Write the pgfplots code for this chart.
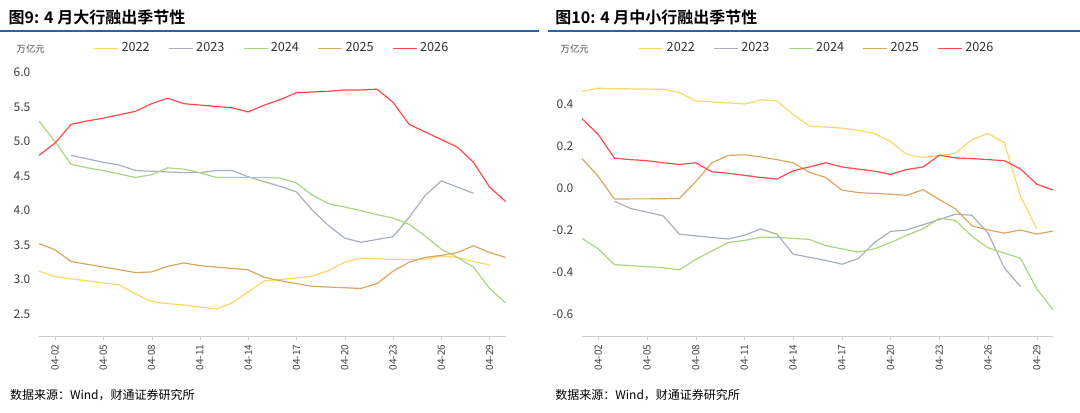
\documentclass[border=0pt]{standalone}
\usepackage{fontspec}
\setmainfont{Noto Sans CJK SC}
\newfontfamily\tfont{Noto Sans CJK SC}[BoldFont={Noto Sans CJK SC Bold}]
\usepackage{pgfplots}
\pgfplotsset{compat=1.18}
\definecolor{c22}{HTML}{FAD766}
\definecolor{c23}{HTML}{A8AFC0}
\definecolor{c24}{HTML}{ABD67E}
\definecolor{c25}{HTML}{DBA65E}
\definecolor{c26}{HTML}{FF4A4A}
\definecolor{tblue}{HTML}{2264AE}
\pgfplotsset{
 base/.style={
  scale only axis, width=350pt, height=205.5pt, xmin=1, xmax=30,
  axis y line*=left, axis x line*=bottom,
  y axis line style={draw=none}, x axis line style={draw=gray!40},
  ytick style={draw=none}, xtick style={draw=gray!40},
  xtick={2,5,...,29},
  xticklabels={04-02,04-05,04-08,04-11,04-14,04-17,04-20,04-23,04-26,04-29},
  xticklabel style={rotate=90, anchor=east, font=\fontsize{7.5}{8}\selectfont, text=black!75},
  yticklabel style={font=\fontsize{9}{10}\selectfont, text=black!75},
  /pgf/number format/assume math mode=true,
  tick align=outside, major tick length=3pt,
  every axis plot/.append style={line width=0.9pt, no markers},
  legend columns=5,
  legend style={draw=none, fill=none, at={(0.5,1)}, anchor=south, yshift=2pt,
    font=\fontsize{9.5}{10}\selectfont, text=black!80,
    /tikz/every even column/.append style={column sep=12pt}},
  legend image code/.code={\draw[#1, line width=0.9pt] (0pt,0pt)--(18pt,0pt);},
 }
}
\begin{document}
\begin{tikzpicture}
\path[use as bounding box] (0,0) rectangle (810pt,309.75pt);
\node[anchor=west] at (3pt,296.5pt) {\tfont\bfseries\fontsize{12}{13}\selectfont 图9: 4 月大行融出季节性};
\node[anchor=west] at (413pt,296.5pt) {\tfont\bfseries\fontsize{12}{13}\selectfont 图10: 4 月中小行融出季节性};
\draw[tblue, line width=1.3pt] (0,286.5pt) -- (404pt,286.5pt);
\draw[tblue, line width=1.3pt] (411pt,286.5pt) -- (810pt,286.5pt);
\node[anchor=west] at (4pt,13.5pt) {\fontsize{9}{10}\selectfont 数据来源：Wind，财通证券研究所};
\node[anchor=west] at (413pt,13.5pt) {\fontsize{9}{10}\selectfont 数据来源：Wind，财通证券研究所};
\node[anchor=west, text=black!70] at (9pt,273pt) {\fontsize{7}{8}\selectfont 万亿元};
\node[anchor=west, text=black!70] at (417pt,273pt) {\fontsize{7}{8}\selectfont 万亿元};
\begin{axis}[base, at={(29.25pt,57.75pt)}, anchor=south west, ymin=2.18, ymax=6.155,
  ytick={2.5,3,...,6}, yticklabel style={/pgf/number format/.cd, fixed, fixed zerofill, precision=1}]
\addplot[c22] coordinates {(1,3.12)(2,3.04)(3,3.01)(4,2.98)(5,2.95)(6,2.92)(7,2.79)(8,2.68)(9,2.65)(10,2.63)(11,2.60)(12,2.57)(13,2.66)(14,2.82)(15,2.98)(16,3.00)(17,3.02)(18,3.05)(19,3.13)(20,3.25)(21,3.31)(22,3.30)(23,3.29)(24,3.29)(25,3.29)(26,3.34)(27,3.32)(28,3.26)(29,3.21)};
\addplot[c23] coordinates {(3,4.80)(4,4.75)(5,4.70)(6,4.66)(7,4.58)(8,4.57)(9,4.56)(10,4.55)(11,4.55)(12,4.58)(13,4.58)(14,4.49)(15,4.42)(16,4.35)(17,4.27)(18,4.00)(19,3.78)(20,3.60)(21,3.54)(22,3.58)(23,3.62)(24,3.90)(25,4.22)(26,4.43)(27,4.34)(28,4.25)};
\addplot[c24] coordinates {(1,5.30)(2,5.0)(3,4.67)(4,4.62)(5,4.58)(6,4.53)(7,4.48)(8,4.52)(9,4.62)(10,4.60)(11,4.55)(12,4.48)(13,4.48)(14,4.48)(15,4.48)(16,4.47)(17,4.40)(18,4.22)(19,4.10)(20,4.05)(21,4.00)(22,3.94)(23,3.89)(24,3.80)(25,3.63)(26,3.44)(27,3.32)(28,3.18)(29,2.87)(30,2.66)};
\addplot[c25] coordinates {(1,3.52)(2,3.43)(3,3.26)(4,3.22)(5,3.18)(6,3.14)(7,3.10)(8,3.11)(9,3.19)(10,3.24)(11,3.20)(12,3.18)(13,3.16)(14,3.14)(15,3.03)(16,2.98)(17,2.94)(18,2.90)(19,2.89)(20,2.88)(21,2.87)(22,2.94)(23,3.12)(24,3.25)(25,3.32)(26,3.35)(27,3.39)(28,3.49)(29,3.39)(30,3.32)};
\addplot[c26] coordinates {(1,4.80)(2,4.98)(3,5.25)(4,5.30)(5,5.34)(6,5.39)(7,5.44)(8,5.55)(9,5.63)(10,5.55)(11,5.53)(12,5.51)(13,5.49)(14,5.43)(15,5.53)(16,5.61)(17,5.71)(18,5.72)(19,5.73)(20,5.75)(21,5.75)(22,5.76)(23,5.57)(24,5.25)(25,5.14)(26,5.03)(27,4.92)(28,4.70)(29,4.34)(30,4.13)};
\legend{2022,2023,2024,2025,2026}
\end{axis}
\begin{axis}[base, at={(436.5pt,57.75pt)}, anchor=south west, width=353.25pt, ymin=-0.705, ymax=0.6,
  ytick={-0.6,-0.4,...,0.41}, yticklabel style={/pgf/number format/.cd, fixed, fixed zerofill, precision=1}]
\addplot[c22] coordinates {(1,0.46)(2,0.475)(3,0.473)(4,0.472)(5,0.471)(6,0.47)(7,0.455)(8,0.415)(9,0.41)(10,0.405)(11,0.40)(12,0.42)(13,0.415)(14,0.35)(15,0.295)(16,0.29)(17,0.285)(18,0.275)(19,0.26)(20,0.22)(21,0.16)(22,0.145)(23,0.155)(24,0.165)(25,0.23)(26,0.26)(27,0.215)(28,-0.04)(29,-0.195)};
\addplot[c23] coordinates {(3,-0.063)(4,-0.098)(5,-0.115)(6,-0.133)(7,-0.22)(8,-0.228)(9,-0.236)(10,-0.243)(11,-0.225)(12,-0.195)(13,-0.22)(14,-0.315)(15,-0.33)(16,-0.345)(17,-0.363)(18,-0.337)(19,-0.26)(20,-0.207)(21,-0.2)(22,-0.175)(23,-0.15)(24,-0.125)(25,-0.13)(26,-0.215)(27,-0.38)(28,-0.47)};
\addplot[c24] coordinates {(1,-0.24)(2,-0.29)(3,-0.365)(4,-0.37)(5,-0.375)(6,-0.38)(7,-0.39)(8,-0.34)(9,-0.3)(10,-0.26)(11,-0.25)(12,-0.235)(13,-0.235)(14,-0.24)(15,-0.245)(16,-0.275)(17,-0.29)(18,-0.305)(19,-0.29)(20,-0.26)(21,-0.225)(22,-0.195)(23,-0.145)(24,-0.155)(25,-0.23)(26,-0.285)(27,-0.31)(28,-0.335)(29,-0.48)(30,-0.58)};
\addplot[c25] coordinates {(1,0.14)(2,0.055)(3,-0.053)(4,-0.052)(5,-0.052)(6,-0.051)(7,-0.05)(8,0.03)(9,0.12)(10,0.155)(11,0.158)(12,0.148)(13,0.135)(14,0.12)(15,0.075)(16,0.05)(17,-0.01)(18,-0.022)(19,-0.026)(20,-0.03)(21,-0.035)(22,-0.008)(23,-0.055)(24,-0.1)(25,-0.18)(26,-0.2)(27,-0.215)(28,-0.2)(29,-0.22)(30,-0.205)};
\addplot[c26] coordinates {(1,0.33)(2,0.255)(3,0.142)(4,0.135)(5,0.13)(6,0.12)(7,0.112)(8,0.12)(9,0.077)(10,0.07)(11,0.06)(12,0.05)(13,0.042)(14,0.082)(15,0.10)(16,0.12)(17,0.1)(18,0.09)(19,0.08)(20,0.065)(21,0.088)(22,0.10)(23,0.156)(24,0.143)(25,0.14)(26,0.135)(27,0.13)(28,0.09)(29,0.018)(30,-0.01)};
\legend{2022,2023,2024,2025,2026}
\end{axis}
\end{tikzpicture}
\end{document}
